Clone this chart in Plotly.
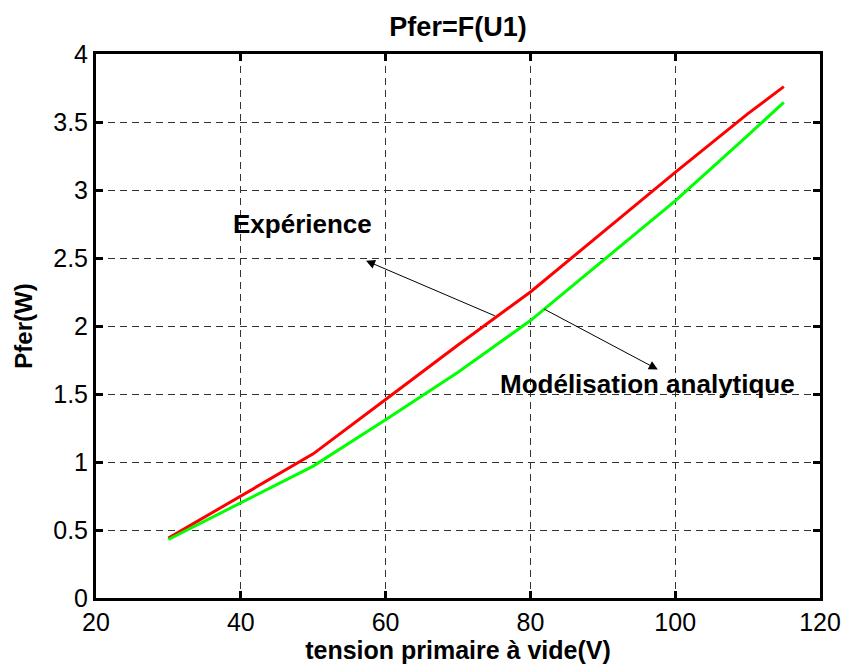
import plotly.graph_objects as go

# Data
U1 = [30, 40, 50, 60, 70, 80, 90, 100, 110, 115]
pfer_experience = [0.44, 0.75, 1.06, 1.46, 1.86, 2.25, 2.69, 3.13, 3.56, 3.76]
pfer_modele = [0.43, 0.70, 0.97, 1.31, 1.66, 2.04, 2.48, 2.92, 3.40, 3.645]

x_ticks = [20, 40, 60, 80, 100, 120]
y_ticks = [0, 0.5, 1, 1.5, 2, 2.5, 3, 3.5, 4]
y_tick_text = ["0", "0.5", "1", "1.5", "2", "2.5", "3", "3.5", "4"]

FONT = "Liberation Sans, Arial, sans-serif"

fig = go.Figure()
fig.add_trace(go.Scatter(x=U1, y=pfer_experience, mode="lines",
                         line=dict(color="#ff0000", width=3), name="Expérience"))
fig.add_trace(go.Scatter(x=U1, y=pfer_modele, mode="lines",
                         line=dict(color="#00ff00", width=3), name="Modélisation analytique"))

axis_common = dict(
    showline=True, linecolor="black", linewidth=3, mirror="ticks",
    ticks="inside", ticklen=7, tickwidth=3, tickcolor="black",
    showgrid=True, gridcolor="#333333", gridwidth=1, griddash="7px,5px",
    zeroline=False,
    tickfont=dict(family=FONT, size=25, color="black"),
)

fig.update_xaxes(range=[20, 120], tickvals=x_ticks, ticktext=[str(v) for v in x_ticks],
                 title=dict(text="<b>tension primaire à vide(V)</b>",
                            font=dict(family=FONT, size=25, color="black"), standoff=0),
                 **axis_common)
fig.update_yaxes(range=[0, 4], tickvals=y_ticks, ticktext=y_tick_text,
                 title=dict(text="<b>Pfer(W)</b>",
                            font=dict(family=FONT, size=24, color="black"), standoff=14),
                 **axis_common)

annotations = [
    dict(x=48.5, y=2.75, xref="x", yref="y", text="<b>Expérience</b>", showarrow=False,
         font=dict(family=FONT, size=26, color="black")),
    dict(x=96.2, y=1.57, xref="x", yref="y", text="<b>Modélisation analytique</b>", showarrow=False,
         font=dict(family=FONT, size=26, color="black")),
    dict(x=57.3, y=2.48, ax=75.3, ay=2.07, xref="x", yref="y", axref="x", ayref="y",
         text="", showarrow=True, arrowhead=2, arrowsize=1.8, arrowwidth=1, arrowcolor="black"),
    dict(x=97.6, y=1.68, ax=81.7, ay=2.13, xref="x", yref="y", axref="x", ayref="y",
         text="", showarrow=True, arrowhead=2, arrowsize=1.8, arrowwidth=1, arrowcolor="black"),
]

fig.update_layout(
    width=853, height=666,
    margin=dict(l=96, r=27, t=54, b=64),
    paper_bgcolor="white", plot_bgcolor="white",
    showlegend=False,
    title=dict(text="<b>Pfer=F(U1)</b>", x=0.5, xref="paper", y=1 - 27 / 666, yref="container",
               xanchor="center", yanchor="middle",
               font=dict(family=FONT, size=27, color="black")),
    annotations=annotations,
)

fig.write_html("out.html")
